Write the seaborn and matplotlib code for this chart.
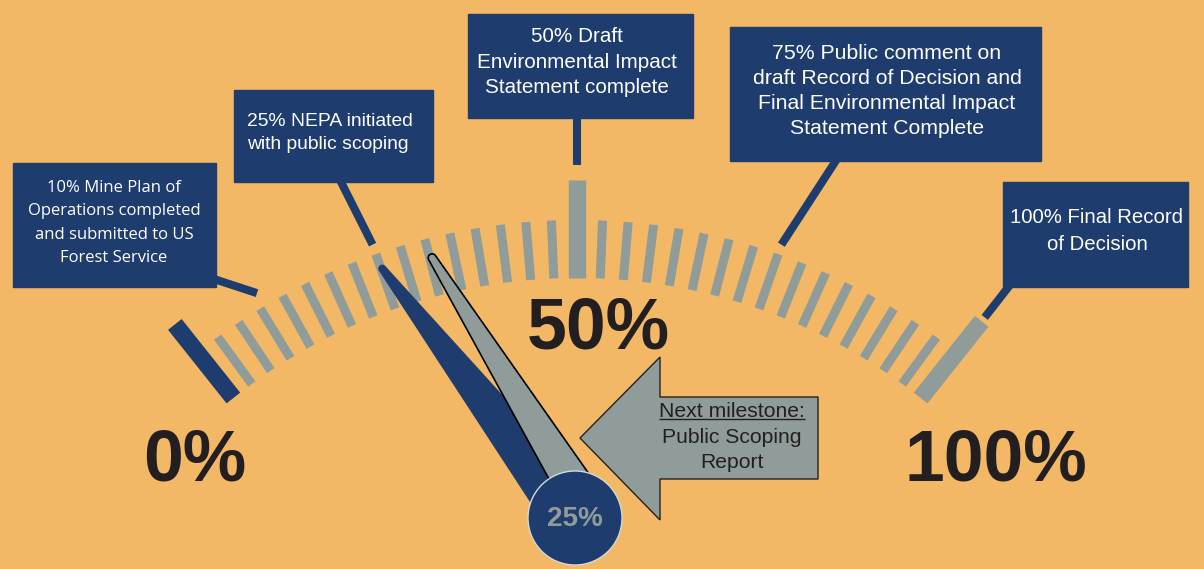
import numpy as np
import pandas as pd
import matplotlib
matplotlib.use("Agg")
import matplotlib.pyplot as plt
from matplotlib.patches import Polygon, Rectangle, Circle
import seaborn as sns

sns.set_theme(style="white")
plt.rcParams['font.family'] = ['Liberation Sans', 'DejaVu Sans']
plt.rcParams['lines.solid_capstyle'] = 'butt'

# ---- data ----
progress_pct = 25          # dark needle / dial value
next_pct = 31.4            # grey needle (next milestone)
scale_labels = ["0%", "50%", "100%"]
scale_values = [0, 50, 100]
milestone_values = [10, 25, 50, 75, 100]
milestone_texts = [
    "10% Mine Plan of\nOperations completed\nand submitted to US\nForest Service",
    "25% NEPA initiated\nwith public scoping",
    "50% Draft\nEnvironmental Impact\nStatement complete",
    "75% Public comment on\ndraft Record of Decision and\nFinal Environmental Impact\nStatement Complete",
    "100% Final Record\nof Decision",
]
next_title = "Next milestone:"
next_name = "Public Scoping\nReport"
n_intervals = 32

# ---- style ----
BG = "#F3B866"
NAVY = "#1E3C6E"
GRAY = "#8F9C9A"
DARK = "#231F20"

# gauge geometry (pixel space)
CX, CY = 577, 830
SPAN = 38.5
PIVOT = np.array([575, 518])


def gauge_xy(value, r):
    th = np.radians(-SPAN + 2 * SPAN * value / 100)
    return np.array([CX + r * np.sin(th), CY - r * np.cos(th)])


def needle(tip, base, half_w, tip_r):
    d = (tip - base) / np.linalg.norm(tip - base)
    n = np.array([-d[1], d[0]])
    c = tip - d * tip_r
    a = np.radians(np.linspace(-90, 90, 25))
    arc = [c + tip_r * (np.cos(t) * d + np.sin(t) * n) for t in a]
    return np.vstack([base - n * half_w, arc, base + n * half_w])


fig = plt.figure(figsize=(12.04, 5.69), dpi=100, facecolor=BG)
ax = fig.add_axes([0, 0, 1, 1])
ax.set_facecolor(BG)

# ---- tick marks ----
rows = []
for i in range(n_intervals + 1):
    v = i * 100 / n_intervals
    if i == 0:
        kind, r0, r1 = "start", 552, 646
    elif v in (50, 100):
        kind, r0, r1 = "major", 552, 650
    else:
        kind, r0, r1 = "minor", 552, 610
    for r in (r0, r1):
        x, y = gauge_xy(v, r)
        rows.append({"tick": i, "kind": kind, "x": x, "y": y})
ticks = pd.DataFrame(rows)
sns.lineplot(data=ticks, x="x", y="y", units="tick", estimator=None, sort=False,
             hue="kind", size="kind",
             palette={"start": NAVY, "major": GRAY, "minor": GRAY},
             sizes={"start": 12.5, "major": 12.5, "minor": 6.5},
             legend=False, ax=ax, zorder=1)

# ---- scale labels ----
label_pos = [(195, 480), (598, 348), (996, 480)]
for lab, (x, y) in zip(scale_labels, label_pos):
    ax.text(x, y, lab, ha="center", va="baseline", fontsize=51.5,
            fontweight="bold", color=DARK, zorder=2)

# ---- milestone callouts ----
boxes = [(13, 163, 216, 287), (234, 90, 433, 182), (468, 14, 693, 118),
         (730, 27, 1041, 161), (1003, 182, 1188, 287)]
anchors = [(214, 279), (340, 180), (577, 116), (837, 159), (1010, 285)]
leader_r = [625, 620, 665, 620, 655]
text_pos = [(114, 223, "center"), (247, 133, "left"), (577, 62, "center"),
            (887, 91, "center"), (1097, 231, "center")]
fonts = [["Open Sans", "DejaVu Sans"]] + [["Liberation Sans", "DejaVu Sans"]] * 4
sizes = [12, 13.9, 14.9, 15.3, 14.7]
spacing = [1.59, 1.51, 1.41, 1.39, 1.49]
for v, txt, box, anc, lr, (tx, ty, ha), fam, fs, ls in zip(
        milestone_values, milestone_texts, boxes, anchors, leader_r,
        text_pos, fonts, sizes, spacing):
    end = gauge_xy(v, lr)
    ax.plot([anc[0], end[0]], [anc[1], end[1]], color=NAVY, lw=5.8, zorder=2)
    x0, y0, x1, y1 = box
    ax.add_patch(Rectangle((x0, y0), x1 - x0, y1 - y0, color=NAVY, zorder=3))
    ax.text(tx, ty, txt, ha=ha, va="center", multialignment=ha, fontsize=fs,
            family=fam, color="white", linespacing=ls, zorder=4)

# ---- needles ----
blue = needle(gauge_xy(progress_pct, 598), PIVOT, 29, 4)
ax.add_patch(Polygon(blue, closed=True, facecolor=NAVY, edgecolor="none", zorder=5))
grey = needle(gauge_xy(next_pct, 594), np.array([585, 503]), 20, 4)
ax.add_patch(Polygon(grey, closed=True, facecolor=GRAY, edgecolor="black",
                     lw=1.2, zorder=6))
ax.add_patch(Circle(PIVOT, 47, facecolor=NAVY, edgecolor="#d4d9dc", lw=1, zorder=7))
ax.text(PIVOT[0], PIVOT[1] + 1, f"{progress_pct}%", ha="center", va="center",
        fontsize=20, fontweight="bold", color=GRAY, zorder=8)

# ---- next milestone arrow ----
arrow = [(580, 438), (660, 357), (660, 397), (818, 397), (818, 479),
         (660, 479), (660, 520)]
ax.add_patch(Polygon(arrow, closed=True, facecolor=GRAY, edgecolor=DARK,
                     lw=1, zorder=6))
t_title = ax.text(732, 411, next_title, ha="center", va="center", fontsize=15.2,
                  color=DARK, zorder=7)
ax.text(732, 450, next_name, ha="center", va="center", fontsize=15.2,
        color=DARK, linespacing=1.38, zorder=7)

ax.set_xlim(0, 1204)
ax.set_ylim(569, 0)
ax.set_axis_off()

# underline the arrow title
fig.canvas.draw()
bb = t_title.get_window_extent().transformed(ax.transData.inverted())
uy = max(bb.y0, bb.y1) - 1.5
ax.plot([bb.x0, bb.x1], [uy, uy], color=DARK, lw=1, zorder=7)
ax.set_xlim(0, 1204)
ax.set_ylim(569, 0)

fig.savefig("out.png", dpi=100, facecolor=BG)
